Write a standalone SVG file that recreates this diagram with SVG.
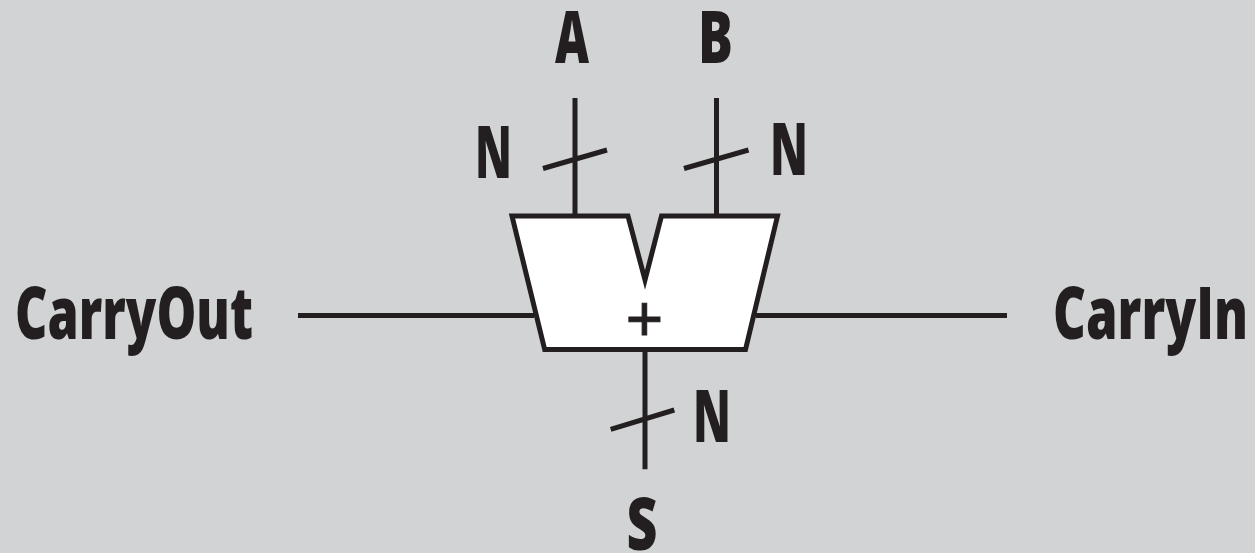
<svg xmlns="http://www.w3.org/2000/svg" width="1255" height="553" viewBox="0 0 1255 553">
<style>
.l{stroke:#231f20;stroke-width:5;fill:none}
.t{font-family:"Open Sans","Liberation Sans",sans-serif;font-weight:800;fill:#231f20;font-size:73px}
</style>
<rect width="1255" height="553" fill="#d1d3d4"/>
<g id="connectors">
<path class="l" d="M575 98V216M716.5 98V216M543 168.5L607 150M684 168.5L748.500 150M298 315.500H534M756 315.500H1007M645 350V469.300M610.700 429.300L674.300 410"/>
</g>
<g id="adder">
<path d="M512 216H628L645 280L661.500 216H777.500L745.500 349.500H544.700Z" fill="#fff" stroke="#231f20" stroke-width="5"/>
<text x="644.500" y="341" text-anchor="middle" style="font-family:'Liberation Sans',sans-serif;font-size:64px;fill:#231f20;stroke:#231f20;stroke-width:1">+</text>
</g>
<g id="labels">
<text class="t" x="555" y="62.500" textLength="34" lengthAdjust="spacingAndGlyphs">A</text>
<text class="t" x="698" y="62.500" textLength="35" lengthAdjust="spacingAndGlyphs">B</text>
<text class="t" x="475" y="178" textLength="37" lengthAdjust="spacingAndGlyphs">N</text>
<text class="t" x="770" y="175" textLength="38" lengthAdjust="spacingAndGlyphs">N</text>
<text class="t" x="693" y="442" textLength="38" lengthAdjust="spacingAndGlyphs">N</text>
<text class="t" x="626.500" y="549.500" textLength="31" lengthAdjust="spacingAndGlyphs">S</text>
<text class="t" x="15" y="339" textLength="238" lengthAdjust="spacingAndGlyphs">CarryOut</text>
<text class="t" x="1053" y="339" textLength="195" lengthAdjust="spacingAndGlyphs">CarryIn</text>
</g>
</svg>
